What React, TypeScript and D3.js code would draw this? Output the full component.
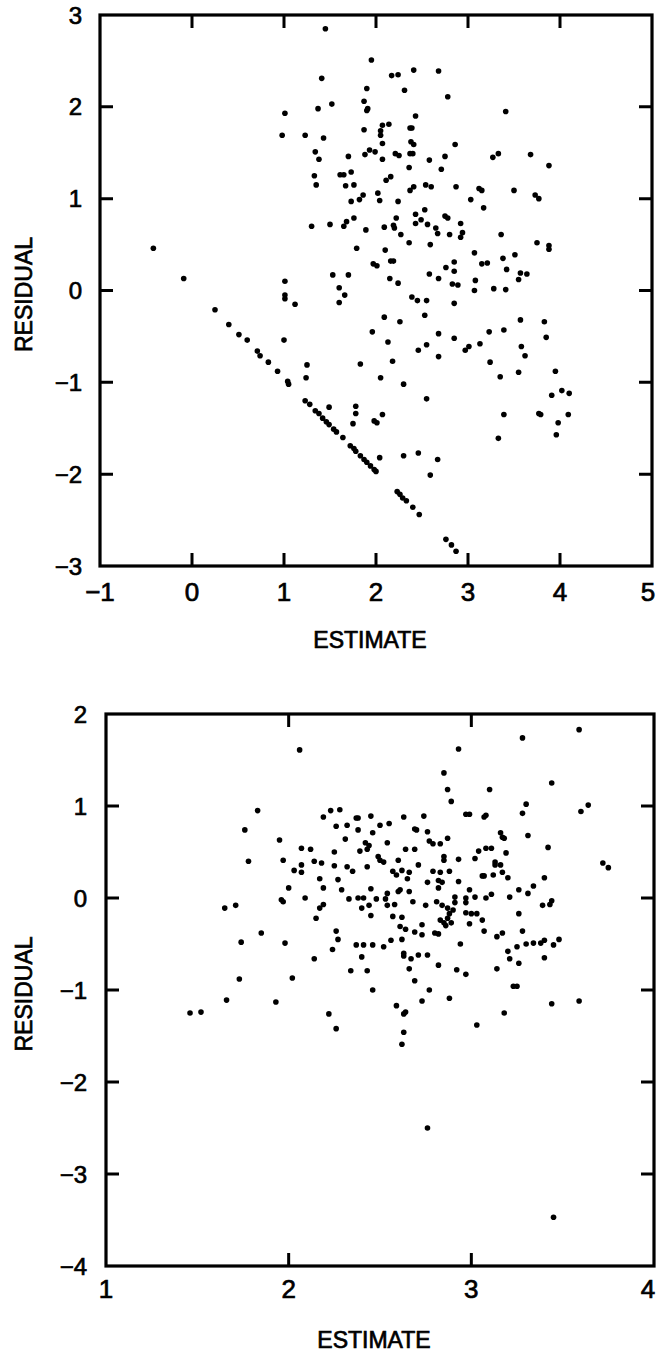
import React from "react";
import * as d3 from "d3";

const topXTicks = [-1, 0, 1, 2, 3, 4, 5];
const topYTicks = [-3, -2, -1, 0, 1, 2, 3];
const bottomXTicks = [1, 2, 3, 4];
const bottomYTicks = [-4, -3, -2, -1, 0, 1, 2];

const xTitle = "ESTIMATE";
const yTitle = "RESIDUAL";

// [estimate, residual]
const topPoints: [number, number][] = [
  [1.45, 2.85], [1.41, 2.31], [1.37, 1.98], [1.52, 2.03], [1.01, 1.93], [0.98, 1.69],
  [1.23, 1.69], [1.43, 1.66], [1.34, 1.51], [1.38, 1.43], [1.33, 1.25], [1.35, 1.15],
  [1.30, 0.70], [1.50, 0.72], [-0.42, 0.46], [-0.09, 0.13], [1.01, 0.10], [1.53, 0.17],
  [1.01, -0.05], [1.01, -0.09], [1.12, -0.15], [0.25, -0.21], [0.40, -0.37], [0.51, -0.48],
  [0.60, -0.54], [1.00, -0.54], [0.71, -0.66], [0.74, -0.71], [0.83, -0.78], [0.93, -0.88],
  [1.04, -0.99], [1.05, -1.02], [1.25, -0.81], [1.24, -0.95], [1.23, -1.20], [1.28, -1.24],
  [1.34, -1.31], [1.38, -1.34], [1.42, -1.39], [1.46, -1.43], [1.49, -1.46], [1.49, -1.27],
  [1.95, 2.51], [2.17, 2.34], [2.24, 2.35], [2.41, 2.40], [2.68, 2.39], [1.90, 2.20],
  [2.31, 2.18], [2.78, 2.11], [1.87, 2.06], [1.90, 1.96], [1.91, 1.98], [3.41, 1.95],
  [2.43, 1.90], [2.07, 1.80], [2.14, 1.81], [1.87, 1.75], [2.05, 1.74], [2.05, 1.69],
  [2.37, 1.77], [2.39, 1.77], [2.07, 1.60], [2.38, 1.62], [2.41, 1.59], [2.86, 1.59],
  [1.70, 1.46], [1.88, 1.48], [1.93, 1.53], [1.99, 1.51], [2.07, 1.43], [2.21, 1.49],
  [2.25, 1.47], [2.37, 1.49], [2.40, 1.49], [2.58, 1.42], [2.75, 1.46], [3.27, 1.45],
  [3.33, 1.49], [3.68, 1.48], [3.88, 1.36], [2.36, 1.34], [2.71, 1.32], [1.61, 1.26],
  [1.65, 1.26], [1.73, 1.29], [2.16, 1.24], [2.11, 1.20], [1.67, 1.14], [1.76, 1.15],
  [2.54, 1.15], [2.60, 1.13], [2.41, 1.13], [2.37, 1.09], [2.87, 1.13], [3.12, 1.11],
  [3.15, 1.09], [3.50, 1.09], [1.86, 1.04], [2.02, 1.06], [3.73, 1.04], [3.77, 1.00],
  [1.73, 0.97], [1.82, 0.99], [2.04, 0.98], [2.24, 0.97], [3.03, 0.99], [3.17, 0.90],
  [2.53, 0.88], [1.68, 0.75], [1.65, 0.70], [1.76, 0.79], [1.89, 0.66], [2.09, 0.69],
  [2.19, 0.71], [2.22, 0.79], [2.20, 0.68], [2.27, 0.61], [2.43, 0.83], [2.43, 0.73],
  [2.49, 0.77], [2.56, 0.72], [2.65, 0.68], [2.67, 0.62], [2.75, 0.81], [2.78, 0.79],
  [2.92, 0.73], [2.94, 0.63], [2.92, 0.58], [2.80, 0.61], [3.36, 0.61], [3.75, 0.52],
  [3.88, 0.49], [3.88, 0.45], [2.36, 0.52], [2.59, 0.50], [1.79, 0.46], [2.10, 0.44],
  [3.07, 0.41], [1.97, 0.29], [2.01, 0.27], [2.16, 0.32], [2.19, 0.32], [2.85, 0.31],
  [2.76, 0.25], [2.85, 0.21], [3.15, 0.29], [3.21, 0.30], [3.38, 0.35], [3.51, 0.39],
  [3.42, 0.23], [3.57, 0.19], [3.64, 0.18], [3.55, 0.12], [1.70, 0.17], [2.15, 0.13],
  [2.24, 0.08], [2.58, 0.18], [2.68, 0.13], [2.83, 0.07], [2.89, 0.06], [3.08, 0.11],
  [3.07, 0.00], [3.28, 0.02], [3.41, 0.01], [1.60, 0.03], [1.66, -0.05], [2.39, -0.07],
  [1.60, -0.13], [2.45, -0.11], [2.55, -0.11], [2.85, -0.14], [2.09, -0.29], [2.26, -0.34],
  [2.53, -0.27], [3.57, -0.32], [3.83, -0.34], [1.96, -0.45], [2.68, -0.47], [2.85, -0.52],
  [3.23, -0.45], [3.39, -0.43], [3.85, -0.51], [2.13, -0.56], [2.46, -0.65], [2.55, -0.59],
  [2.97, -0.65], [3.01, -0.61], [3.13, -0.58], [3.58, -0.61], [3.62, -0.71], [2.68, -0.72],
  [1.83, -0.80], [2.18, -0.77], [3.24, -0.78], [2.05, -0.95], [2.30, -1.02], [3.35, -0.94],
  [3.55, -0.89], [3.95, -0.88], [2.55, -1.18], [3.91, -1.14], [4.02, -1.09], [4.10, -1.12],
  [1.78, -1.26], [1.78, -1.34], [1.75, -1.45], [2.07, -1.35], [1.98, -1.42], [2.01, -1.44],
  [3.39, -1.35], [3.77, -1.34], [3.79, -1.35], [3.98, -1.44], [4.09, -1.35], [3.96, -1.57],
  [3.33, -1.61], [1.54, -1.51], [1.57, -1.54], [1.64, -1.60], [1.72, -1.69], [1.76, -1.72],
  [1.78, -1.75], [1.83, -1.80], [1.87, -1.84], [1.90, -1.87], [1.94, -1.91], [1.98, -1.95],
  [2.00, -1.97], [2.04, -1.82], [2.30, -1.80], [2.46, -1.77], [2.67, -1.84], [2.59, -2.01],
  [2.23, -2.19], [2.26, -2.22], [2.29, -2.26], [2.33, -2.29], [2.40, -2.36], [2.47, -2.44],
  [2.76, -2.71], [2.82, -2.77], [2.87, -2.84],
];

const bottomPoints: [number, number][] = [
  [2.06, 1.61], [1.83, 0.95], [2.19, 0.88], [1.76, 0.74], [1.95, 0.63], [2.07, 0.54],
  [2.12, 0.53], [1.78, 0.40], [1.97, 0.41], [2.14, 0.40], [2.18, 0.38], [2.07, 0.36],
  [2.03, 0.30], [2.07, 0.28], [2.17, 0.21], [2.19, 0.11], [2.00, 0.11], [1.96, -0.02],
  [1.97, -0.04], [2.09, 0.00], [2.19, -0.07], [2.17, -0.11], [1.65, -0.11], [1.71, -0.08],
  [2.15, -0.22], [1.85, -0.38], [1.74, -0.48], [1.98, -0.49], [2.14, -0.66], [1.73, -0.88],
  [2.02, -0.87], [1.66, -1.11], [1.93, -1.13], [1.46, -1.25], [1.52, -1.24], [2.22, -1.26],
  [3.59, 1.83], [3.28, 1.74], [2.93, 1.62], [2.85, 1.36], [3.44, 1.25], [2.87, 1.18],
  [3.10, 1.18], [2.89, 1.05], [3.30, 1.02], [3.28, 0.92], [3.64, 1.01], [3.60, 0.94],
  [2.23, 0.95], [2.28, 0.96], [2.37, 0.87], [2.38, 0.87], [2.45, 0.89], [2.63, 0.88],
  [2.74, 0.89], [2.97, 0.91], [2.99, 0.91], [3.07, 0.88], [3.08, 0.90], [2.26, 0.78],
  [2.32, 0.79], [2.38, 0.74], [2.46, 0.71], [2.50, 0.79], [2.55, 0.81], [2.69, 0.75],
  [2.70, 0.74], [2.76, 0.72], [2.77, 0.62], [2.79, 0.59], [2.83, 0.59], [2.87, 0.65],
  [3.16, 0.71], [3.17, 0.66], [3.18, 0.65], [3.31, 0.68], [2.31, 0.64], [2.42, 0.60],
  [2.44, 0.57], [2.54, 0.60], [2.25, 0.50], [2.39, 0.51], [2.43, 0.53], [2.64, 0.53],
  [2.69, 0.53], [2.85, 0.45], [2.85, 0.41], [2.93, 0.42], [3.02, 0.43], [3.04, 0.51],
  [3.08, 0.54], [3.11, 0.54], [3.19, 0.49], [3.42, 0.55], [2.49, 0.45], [2.50, 0.41],
  [2.52, 0.39], [2.60, 0.41], [2.71, 0.36], [2.25, 0.35], [2.32, 0.34], [2.35, 0.29],
  [2.43, 0.34], [2.57, 0.29], [2.59, 0.25], [2.62, 0.30], [2.66, 0.28], [2.65, 0.21],
  [2.79, 0.29], [2.83, 0.28], [2.88, 0.29], [2.82, 0.19], [2.84, 0.17], [2.93, 0.18],
  [2.76, 0.17], [3.06, 0.24], [3.07, 0.24], [3.12, 0.25], [3.17, 0.28], [3.20, 0.22],
  [3.13, 0.39], [3.13, 0.36], [3.16, 0.36], [3.40, 0.22], [2.27, 0.20], [2.82, 0.11],
  [2.29, 0.09], [2.45, 0.10], [2.54, 0.05], [2.60, 0.07], [2.61, 0.09], [2.66, 0.07],
  [2.99, 0.09], [3.11, 0.04], [3.26, 0.09], [3.31, 0.05], [3.34, 0.13], [2.33, -0.01],
  [2.38, 0.00], [2.41, 0.00], [2.40, -0.11], [2.44, -0.08], [2.48, -0.01], [2.53, -0.01],
  [2.54, -0.08], [2.58, -0.07], [2.68, -0.04], [2.75, -0.08], [2.81, -0.04], [2.84, -0.08],
  [2.87, -0.11], [2.91, 0.01], [2.91, -0.05], [2.97, 0.00], [2.97, -0.05], [3.02, 0.01],
  [3.08, 0.00], [3.21, 0.01], [3.39, -0.08], [3.43, -0.07], [3.44, -0.03], [2.90, -0.13],
  [2.88, -0.17], [2.87, -0.22], [2.85, -0.27], [2.86, -0.30], [2.89, -0.27], [2.83, -0.24],
  [2.97, -0.16], [3.00, -0.17], [3.03, -0.17], [2.99, -0.28], [3.06, -0.24], [3.26, -0.17],
  [2.45, -0.19], [2.57, -0.20], [2.62, -0.21], [2.61, -0.31], [2.64, -0.34], [2.69, -0.37],
  [2.73, -0.29], [2.73, -0.40], [2.80, -0.38], [2.82, -0.39], [2.26, -0.36], [2.27, -0.45],
  [2.24, -0.56], [3.07, -0.36], [3.14, -0.42], [3.17, -0.38], [3.28, -0.36], [2.37, -0.51],
  [2.41, -0.51], [2.46, -0.51], [2.52, -0.53], [2.56, -0.46], [2.62, -0.45], [2.94, -0.50],
  [3.25, -0.53], [3.30, -0.50], [3.34, -0.49], [3.38, -0.49], [3.40, -0.46], [3.45, -0.51],
  [3.48, -0.45], [2.40, -0.64], [2.63, -0.60], [2.63, -0.63], [2.67, -0.66], [2.71, -0.62],
  [2.76, -0.62], [3.20, -0.58], [3.21, -0.66], [3.26, -0.71], [3.40, -0.65], [2.82, -0.73],
  [2.66, -0.77], [2.34, -0.79], [2.43, -0.79], [2.92, -0.78], [2.97, -0.83], [3.14, -0.77],
  [2.69, -0.90], [2.46, -1.00], [2.77, -1.00], [3.23, -0.96], [3.25, -0.96], [2.88, -1.09],
  [2.73, -1.12], [2.59, -1.17], [2.64, -1.24], [2.63, -1.26], [3.44, -1.15], [3.59, -1.12],
  [3.18, -1.25], [3.72, 0.38], [3.75, 0.33], [2.26, -1.42], [2.63, -1.46], [2.62, -1.59],
  [3.03, -1.38], [2.76, -2.50], [3.45, -3.47],
];

const FONT = "'Liberation Sans', Arial, Helvetica, sans-serif";

type PanelProps = {
  left: number; right: number; top: number; bottom: number;
  xDomain: [number, number]; yDomain: [number, number];
  xTicks: number[]; yTicks: number[];
  points: [number, number][];
  xTickBaseline: number; yTickRight: number;
  xTitleBaseline: number; yTitleX: number;
};

function Panel(p: PanelProps) {
  const x = d3.scaleLinear().domain(p.xDomain).range([p.left, p.right]);
  const y = d3.scaleLinear().domain(p.yDomain).range([p.bottom, p.top]);
  const fmt = d3.format("d");
  const tl = 13;
  const tw = 3;
  const cx = (p.left + p.right) / 2 - 6;
  const cy = (p.top + p.bottom) / 2 + 4;
  const innerX = p.xTicks.slice(1, -1);
  const innerY = p.yTicks.slice(1, -1);
  const txt = { fontFamily: FONT, fill: "#000", stroke: "#000", strokeWidth: 0.7 };
  const tickPath =
    innerX.map((t) => `M${x(t)} ${p.bottom} L${x(t)} ${p.bottom - tl} M${x(t)} ${p.top} L${x(t)} ${p.top + tl}`).join(" ") +
    " " +
    innerY.map((t) => `M${p.left} ${y(t)} L${p.left + tl} ${y(t)} M${p.right} ${y(t)} L${p.right - tl} ${y(t)}`).join(" ");
  return (
    <g>
      {p.points.map((d, i) => (
        <circle key={i} cx={x(d[0])} cy={y(d[1])} r={2.8} fill="#000" />
      ))}
      <path d={tickPath} fill="none" stroke="#000" strokeWidth={tw} />
      <rect x={p.left} y={p.top} width={p.right - p.left} height={p.bottom - p.top}
        fill="none" stroke="#000" strokeWidth={3.2} />
      {p.xTicks.map((t) => (
        <text key={"xlab" + t} x={Math.min(x(t), 648)} y={p.xTickBaseline} textAnchor="middle"
          fontSize={26} {...txt}>{fmt(t)}</text>
      ))}
      {p.yTicks.map((t) => (
        <text key={"ylab" + t} x={p.yTickRight} y={y(t)} dy="0.36em" textAnchor="end"
          fontSize={24} {...txt}>{fmt(t)}</text>
      ))}
      <text x={cx} y={p.xTitleBaseline} textAnchor="middle" fontSize={23} {...txt}>{xTitle}</text>
      <text transform={`translate(${p.yTitleX},${cy}) rotate(-90)`} textAnchor="middle"
        fontSize={23} {...txt}>{yTitle}</text>
    </g>
  );
}

export default function App() {
  return (
    <svg width={658} height={1356} style={{ position: "absolute", left: 0, top: 0, background: "#fff" }}>
      <rect x={0} y={0} width={658} height={1356} fill="#fff" />
      <Panel left={100} right={652} top={15} bottom={566}
        xDomain={[-1, 5]} yDomain={[-3, 3]} xTicks={topXTicks} yTicks={topYTicks}
        points={topPoints} xTickBaseline={601} yTickRight={82}
        xTitleBaseline={648} yTitleX={32} />
      <Panel left={106} right={654} top={714} bottom={1266}
        xDomain={[1, 4]} yDomain={[-4, 2]} xTicks={bottomXTicks} yTicks={bottomYTicks}
        points={bottomPoints} xTickBaseline={1298} yTickRight={87}
        xTitleBaseline={1348} yTitleX={32} />
    </svg>
  );
}
